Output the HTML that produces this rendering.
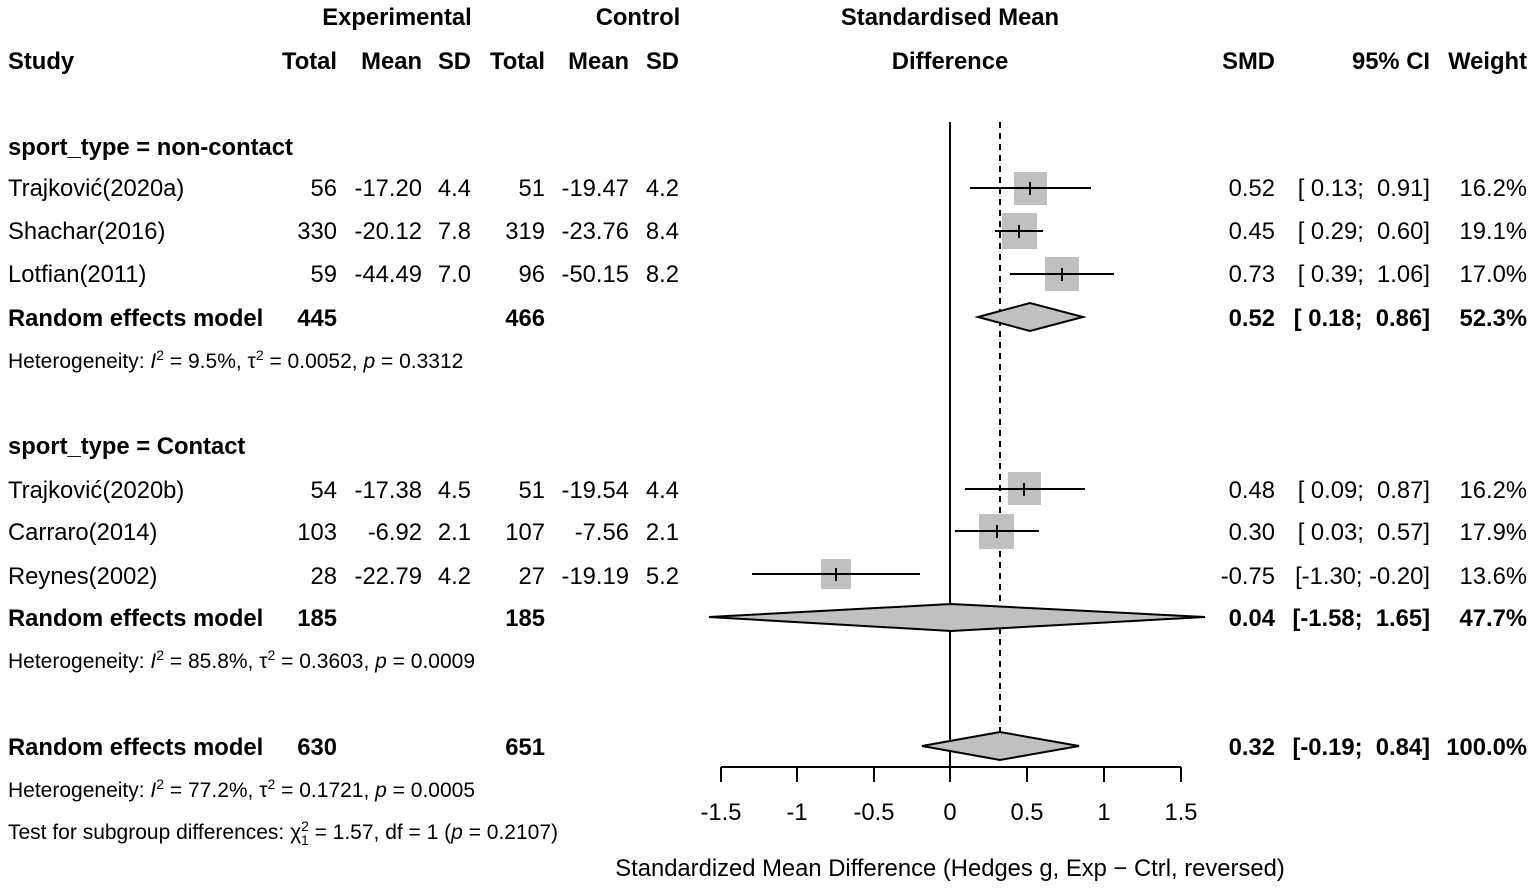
<!DOCTYPE html>
<html><head><meta charset="utf-8"><style>
html,body{margin:0;padding:0;background:#fff}
svg{display:block}
text{font-family:"Liberation Sans",Arial,sans-serif;font-size:23.8px;fill:#000;white-space:pre}
.b{font-weight:bold}
.r{text-anchor:end}
.m{text-anchor:middle}
.s{font-size:21px}
</style></head><body>
<svg width="1535" height="890" viewBox="0 0 1535 890" xmlns="http://www.w3.org/2000/svg" xml:space="preserve">
<text x="397" y="25" class="b m">Experimental</text>
<text x="638" y="25" class="b m">Control</text>
<text x="950" y="25" class="b m">Standardised Mean</text>
<text x="8" y="69" class="b">Study</text>
<text x="337" y="69" class="b r">Total</text>
<text x="422" y="69" class="b r">Mean</text>
<text x="471" y="69" class="b r">SD</text>
<text x="545" y="69" class="b r">Total</text>
<text x="629" y="69" class="b r">Mean</text>
<text x="679" y="69" class="b r">SD</text>
<text x="950" y="69" class="b m">Difference</text>
<text x="1275" y="69" class="b r">SMD</text>
<text x="1430" y="69" class="b r">95% CI</text>
<text x="1527" y="69" class="b r">Weight</text>

<text x="8" y="155" class="b">sport_type = non-contact</text>
<text x="8" y="196">Trajković(2020a)</text><text x="337" y="196" class="r">56</text><text x="422" y="196" class="r">-17.20</text><text x="471" y="196" class="r">4.4</text><text x="545" y="196" class="r">51</text><text x="629" y="196" class="r">-19.47</text><text x="679" y="196" class="r">4.2</text>
<text x="1275" y="196" class="r">0.52</text><text x="1430" y="196" class="r">[ 0.13;  0.91]</text><text x="1527" y="196" class="r">16.2%</text>
<text x="8" y="239">Shachar(2016)</text><text x="337" y="239" class="r">330</text><text x="422" y="239" class="r">-20.12</text><text x="471" y="239" class="r">7.8</text><text x="545" y="239" class="r">319</text><text x="629" y="239" class="r">-23.76</text><text x="679" y="239" class="r">8.4</text>
<text x="1275" y="239" class="r">0.45</text><text x="1430" y="239" class="r">[ 0.29;  0.60]</text><text x="1527" y="239" class="r">19.1%</text>
<text x="8" y="282">Lotfian(2011)</text><text x="337" y="282" class="r">59</text><text x="422" y="282" class="r">-44.49</text><text x="471" y="282" class="r">7.0</text><text x="545" y="282" class="r">96</text><text x="629" y="282" class="r">-50.15</text><text x="679" y="282" class="r">8.2</text>
<text x="1275" y="282" class="r">0.73</text><text x="1430" y="282" class="r">[ 0.39;  1.06]</text><text x="1527" y="282" class="r">17.0%</text>
<text x="8" y="326" class="b">Random effects model</text><text x="337" y="326" class="b r">445</text><text x="545" y="326" class="b r">466</text>
<text x="1275" y="326" class="b r">0.52</text><text x="1430" y="326" class="b r">[ 0.18;  0.86]</text><text x="1527" y="326" class="b r">52.3%</text>
<text x="8" y="368" class="s">Heterogeneity: <tspan font-style="italic">I</tspan><tspan dy="-8" font-size="14">2</tspan><tspan dy="8"> = 9.5%, τ</tspan><tspan dy="-8" font-size="14">2</tspan><tspan dy="8"> = 0.0052, </tspan><tspan font-style="italic">p</tspan> = 0.3312</text>

<text x="8" y="454" class="b">sport_type = Contact</text>
<text x="8" y="498">Trajković(2020b)</text><text x="337" y="498" class="r">54</text><text x="422" y="498" class="r">-17.38</text><text x="471" y="498" class="r">4.5</text><text x="545" y="498" class="r">51</text><text x="629" y="498" class="r">-19.54</text><text x="679" y="498" class="r">4.4</text>
<text x="1275" y="498" class="r">0.48</text><text x="1430" y="498" class="r">[ 0.09;  0.87]</text><text x="1527" y="498" class="r">16.2%</text>
<text x="8" y="540">Carraro(2014)</text><text x="337" y="540" class="r">103</text><text x="422" y="540" class="r">-6.92</text><text x="471" y="540" class="r">2.1</text><text x="545" y="540" class="r">107</text><text x="629" y="540" class="r">-7.56</text><text x="679" y="540" class="r">2.1</text>
<text x="1275" y="540" class="r">0.30</text><text x="1430" y="540" class="r">[ 0.03;  0.57]</text><text x="1527" y="540" class="r">17.9%</text>
<text x="8" y="584">Reynes(2002)</text><text x="337" y="584" class="r">28</text><text x="422" y="584" class="r">-22.79</text><text x="471" y="584" class="r">4.2</text><text x="545" y="584" class="r">27</text><text x="629" y="584" class="r">-19.19</text><text x="679" y="584" class="r">5.2</text>
<text x="1275" y="584" class="r">-0.75</text><text x="1430" y="584" class="r">[-1.30; -0.20]</text><text x="1527" y="584" class="r">13.6%</text>
<text x="8" y="626" class="b">Random effects model</text><text x="337" y="626" class="b r">185</text><text x="545" y="626" class="b r">185</text>
<text x="1275" y="626" class="b r">0.04</text><text x="1430" y="626" class="b r">[-1.58;  1.65]</text><text x="1527" y="626" class="b r">47.7%</text>
<text x="8" y="668" class="s">Heterogeneity: <tspan font-style="italic">I</tspan><tspan dy="-8" font-size="14">2</tspan><tspan dy="8"> = 85.8%, τ</tspan><tspan dy="-8" font-size="14">2</tspan><tspan dy="8"> = 0.3603, </tspan><tspan font-style="italic">p</tspan> = 0.0009</text>

<text x="8" y="755" class="b">Random effects model</text><text x="337" y="755" class="b r">630</text><text x="545" y="755" class="b r">651</text>
<text x="1275" y="755" class="b r">0.32</text><text x="1430" y="755" class="b r">[-0.19;  0.84]</text><text x="1527" y="755" class="b r">100.0%</text>
<text x="8" y="797" class="s">Heterogeneity: <tspan font-style="italic">I</tspan><tspan dy="-8" font-size="14">2</tspan><tspan dy="8"> = 77.2%, τ</tspan><tspan dy="-8" font-size="14">2</tspan><tspan dy="8"> = 0.1721, </tspan><tspan font-style="italic">p</tspan> = 0.0005</text>
<text x="8" y="839" class="s">Test for subgroup differences: χ<tspan dy="-8" font-size="14">2</tspan><tspan dx="-8" dy="14" font-size="14">1</tspan><tspan dy="-6"> = 1.57, df = 1 (</tspan><tspan font-style="italic">p</tspan> = 0.2107)</text>

<line x1="950" y1="122" x2="950" y2="768" stroke="#000" stroke-width="2"/>
<line x1="1000" y1="122" x2="1000" y2="732" stroke="#000" stroke-width="2" stroke-dasharray="6,5"/>
<g fill="#c0c0c0">
<rect x="1014" y="172" width="33" height="33"/>
<rect x="1002" y="213" width="35" height="36"/>
<rect x="1045" y="257" width="34" height="34"/>
<rect x="1008" y="472" width="33" height="33"/>
<rect x="979" y="514" width="35" height="35"/>
<rect x="821" y="559" width="30" height="30"/>
</g>
<g stroke="#000" stroke-width="2">
<line x1="970" y1="188" x2="1091" y2="188"/><line x1="1030" y1="182" x2="1030" y2="195"/>
<line x1="995" y1="231" x2="1043" y2="231"/><line x1="1019" y1="225" x2="1019" y2="238"/>
<line x1="1010" y1="274" x2="1114" y2="274"/><line x1="1062" y1="268" x2="1062" y2="281"/>
<line x1="965" y1="489" x2="1085" y2="489"/><line x1="1024" y1="483" x2="1024" y2="496"/>
<line x1="955" y1="531" x2="1039" y2="531"/><line x1="997" y1="525" x2="997" y2="538"/>
<line x1="752" y1="574" x2="920" y2="574"/><line x1="836" y1="568" x2="836" y2="581"/>
</g>
<g fill="#c0c0c0" stroke="#000" stroke-width="2">
<polygon points="978,317 1030,303 1083,317 1030,331"/>
<polygon points="709,617 951,604 1205,617 951,631"/>
<polygon points="922,746 1000,732 1079,746 1000,760"/>
</g>
<g stroke="#000" stroke-width="2">
<line x1="721" y1="767" x2="1181" y2="767"/>
<line x1="721" y1="767" x2="721" y2="782"/><line x1="797" y1="767" x2="797" y2="782"/>
<line x1="874" y1="767" x2="874" y2="782"/><line x1="950" y1="767" x2="950" y2="782"/>
<line x1="1027" y1="767" x2="1027" y2="782"/><line x1="1104" y1="767" x2="1104" y2="782"/>
<line x1="1181" y1="767" x2="1181" y2="782"/>
</g>
<text x="721" y="820" class="m">-1.5</text><text x="797" y="820" class="m">-1</text><text x="874" y="820" class="m">-0.5</text>
<text x="950" y="820" class="m">0</text><text x="1027" y="820" class="m">0.5</text><text x="1104" y="820" class="m">1</text><text x="1181" y="820" class="m">1.5</text>
<text x="950" y="876" class="m">Standardized Mean Difference (Hedges g, Exp − Ctrl, reversed)</text>
</svg>
</body></html>
